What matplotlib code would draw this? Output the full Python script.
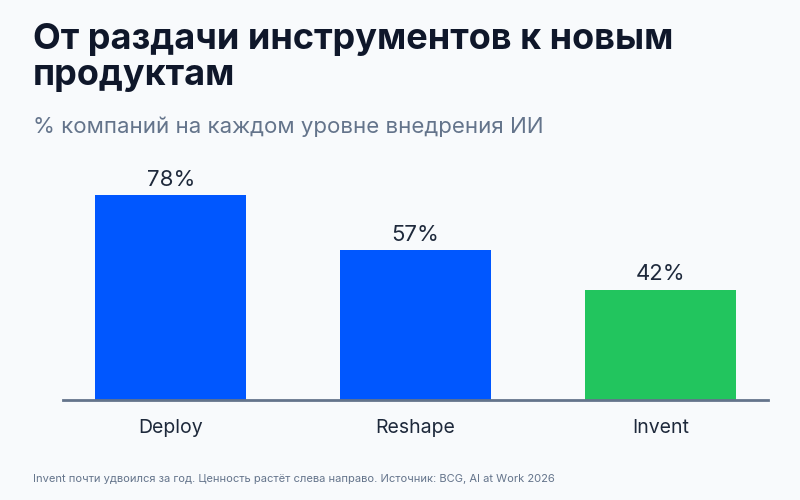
import matplotlib
matplotlib.use("Agg")
import matplotlib.pyplot as plt

plt.rcParams['font.family'] = ['Inter', 'DejaVu Sans']

stages = ["Deploy", "Reshape", "Invent"]
shares = [78, 57, 42]
bar_colors = ["#0057FF", "#0057FF", "#22C55E"]

bg = "#F8FAFC"
fig = plt.figure(figsize=(8, 5), dpi=100, facecolor=bg)
ax = fig.add_axes([0.07875, 0.2, 0.88125, 0.526])
ax.set_facecolor(bg)

x = range(len(stages))
bars = ax.bar(x, shares, width=0.615, color=bar_colors, zorder=2)
for b, v in zip(bars, shares):
    ax.text(b.get_x() + b.get_width() / 2, v + 2, f"{v}%", ha="center", va="bottom",
            fontsize=16, color="#1E293B")

ax.set_xlim(-0.44, 2.44)
ax.set_ylim(0, 100)
ax.set_xticks(list(x))
ax.set_xticklabels(stages, fontsize=14, color="#1E293B")
ax.tick_params(axis="x", length=0, pad=14)
ax.set_yticks([])
for s in ["top", "right", "left"]:
    ax.spines[s].set_visible(False)
ax.spines["bottom"].set_color("#64748B")
ax.spines["bottom"].set_linewidth(2)

fig.text(0.041, 0.955, "От раздачи инструментов к новым\nпродуктам", fontsize=26,
         fontweight="bold", color="#0F172A", va="top", ha="left", linespacing=1.12)
fig.text(0.041, 0.747, "% компаний на каждом уровне внедрения ИИ", fontsize=16,
         color="#64748B", va="center", ha="left")
fig.text(0.041, 0.043, "Invent почти удвоился за год. Ценность растёт слева направо. Источник: BCG, AI at Work 2026",
         fontsize=8, color="#64748B", va="center", ha="left")

fig.savefig("out.png", dpi=100, facecolor=bg)
